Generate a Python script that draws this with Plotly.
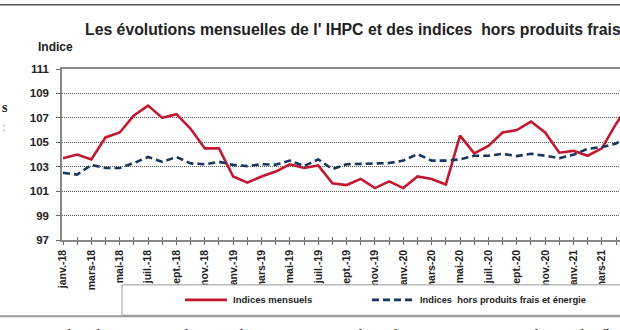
import plotly.graph_objects as go

months = ["janv.-18", "févr.-18", "mars-18", "avr.-18", "mai-18", "juin-18", "juil.-18", "août-18",
          "sept.-18", "oct.-18", "nov.-18", "déc.-18",
          "janv.-19", "févr.-19", "mars-19", "avr.-19", "mai-19", "juin-19", "juil.-19", "août-19",
          "sept.-19", "oct.-19", "nov.-19", "déc.-19",
          "janv.-20", "févr.-20", "mars-20", "avr.-20", "mai-20", "juin-20", "juil.-20", "août-20",
          "sept.-20", "oct.-20", "nov.-20", "déc.-20",
          "janv.-21", "févr.-21", "mars-21", "avr.-21", "mai-21"]

indices_mensuels = [103.7, 104.0, 103.6, 105.4, 105.8, 107.2, 108.0, 107.0, 107.3, 106.1, 104.5, 104.5,
                    102.2, 101.7, 102.2, 102.6, 103.2, 102.9, 103.1, 101.65, 101.5, 102.0, 101.25, 101.8,
                    101.25, 102.2, 102.0, 101.55, 105.55, 104.1, 104.7, 105.8, 106.0, 106.7, 105.8, 104.15,
                    104.3, 103.9, 104.5, 106.5, 108.2]

indices_hors_pfe = [102.5, 102.35, 103.15, 102.9, 102.9, 103.3, 103.8, 103.4, 103.8, 103.27, 103.2, 103.4,
                    103.15, 103.05, 103.2, 103.17, 103.5, 103.05, 103.6, 102.8, 103.2, 103.22, 103.22, 103.3,
                    103.5, 104.03, 103.5, 103.5, 103.6, 103.9, 103.9, 104.06, 103.87, 104.06, 103.9, 103.7,
                    103.98, 104.47, 104.6, 104.9, 105.6]

y_ticks = [97, 99, 101, 103, 105, 107, 109, 111]

RED = "#C3172F"
NAVY = "#17375E"
FONT = "Liberation Sans"
SERIF = "Liberation Serif"

# pixel geometry helpers (plot area: x 62..620, y 68.5..240)
L, R, T, B = 62, 620, 68.5, 240
def px(x):
    return (x - L) / (R - L)
def py(y):
    return (B - y) / (B - T)

idx = list(range(len(months)))
tick_text = [m if i % 2 == 0 else "" for i, m in enumerate(months)]

fig = go.Figure()
fig.add_trace(go.Scatter(x=idx, y=indices_mensuels, mode="lines", name="Indices mensuels",
                         line=dict(color=RED, width=2.6), showlegend=False))
fig.add_trace(go.Scatter(x=idx, y=indices_hors_pfe, mode="lines",
                         name="Indices  hors produits frais et énergie",
                         line=dict(color=NAVY, width=2.6, dash="7px,4px"), showlegend=False))
# invisible trace to activate crossing tick axis
fig.add_trace(go.Scatter(x=[0], y=[97], xaxis="x2", mode="markers", marker=dict(opacity=0),
                         showlegend=False, hoverinfo="skip"))

x_range = [(L - 63) / 14.18, (R - 63) / 14.18]

fig.update_layout(
    width=620, height=330,
    margin=dict(l=L, r=0, t=T, b=330 - B, pad=0),
    paper_bgcolor="white", plot_bgcolor="white",
    font=dict(family=FONT, color="#222"),
    xaxis=dict(range=x_range, tickmode="array", tickvals=idx, ticktext=tick_text,
               tickangle=-90, ticks="outside", ticklen=3, tickcolor="#666", tickwidth=1,
               showline=True, linecolor="#888", linewidth=1.5, mirror=True,
               showgrid=False, zeroline=False, ticklabelstandoff=1,
               tickfont=dict(family=FONT, size=10.5, color="#222", weight="bold")),
    xaxis2=dict(range=x_range, overlaying="x", tickmode="array", tickvals=idx,
                ticks="inside", ticklen=3, tickcolor="#666", tickwidth=1,
                showticklabels=False, showline=False, showgrid=False, zeroline=False,
                side="bottom", anchor="y"),
    yaxis=dict(range=[97, 111], tickmode="array", tickvals=y_ticks,
               ticks="outside", ticklen=4, tickcolor="#666",
               showline=True, linecolor="#888", linewidth=1.5,
               showgrid=True, gridcolor="#555", gridwidth=1, griddash="1px,1px",
               zeroline=False, ticklabelstandoff=5,
               tickfont=dict(family=FONT, size=11.5, color="#222", weight="bold")),
    showlegend=False,
)

shapes = [
    # top rule of the document
    dict(type="line", xref="paper", yref="paper", x0=px(-5), x1=px(640), y0=py(4), y1=py(4),
         line=dict(color="#555", width=1.5), layer="above"),
    # legend box
    dict(type="rect", xref="paper", yref="paper", x0=px(122), x1=px(660), y0=py(315.5), y1=py(285),
         line=dict(color="#9a9a9a", width=1), fillcolor="white", layer="above"),
    # bottom rule
    dict(type="line", xref="paper", yref="paper", x0=px(-5), x1=px(640), y0=py(316.5), y1=py(316.5),
         line=dict(color="#9a9a9a", width=2), layer="above"),
    # legend samples
    dict(type="line", xref="paper", yref="paper", x0=px(185), x1=px(227), y0=py(300), y1=py(300),
         line=dict(color=RED, width=2.6), layer="above"),
    dict(type="line", xref="paper", yref="paper", x0=px(372), x1=px(415), y0=py(300), y1=py(300),
         line=dict(color=NAVY, width=2.6, dash="7px,4px"), layer="above"),
]
fig.update_layout(shapes=shapes)

ann = [
    dict(text="Les évolutions mensuelles de l' IHPC et des indices  hors produits frais",
         x=px(83), y=py(29), xanchor="left", yanchor="middle",
         font=dict(family=FONT, size=15.8, color="#222", weight="bold")),
    dict(text="Indice", x=px(36), y=py(46), xanchor="left", yanchor="middle",
         font=dict(family=FONT, size=12, color="#222", weight="bold")),
    dict(text="Indices mensuels", x=px(231), y=py(300), xanchor="left", yanchor="middle",
         font=dict(family=FONT, size=9.5, color="#222", weight="bold")),
    dict(text="Indices  hors produits frais et énergie", x=px(418), y=py(300), xanchor="left",
         yanchor="middle", font=dict(family=FONT, size=9.3, color="#222", weight="bold")),
    dict(text="s", x=px(0), y=py(107), xanchor="left", yanchor="middle",
         font=dict(family=SERIF, size=14, color="#222", weight="bold")),
    dict(text=":", x=px(0), y=py(127), xanchor="left", yanchor="middle",
         font=dict(family=SERIF, size=12, color="#999")),
    dict(text="produit d'une tension des prix des principaux produits de consommation, tandis que l'inflation mesurée par l'IHPC",
         x=px(40), y=py(325.5), xanchor="left", yanchor="top",
         font=dict(family=SERIF, size=16, color="#222")),
]
for a in ann:
    a.update(xref="paper", yref="paper", showarrow=False)
fig.update_layout(annotations=ann)

fig.write_html("out.html")
